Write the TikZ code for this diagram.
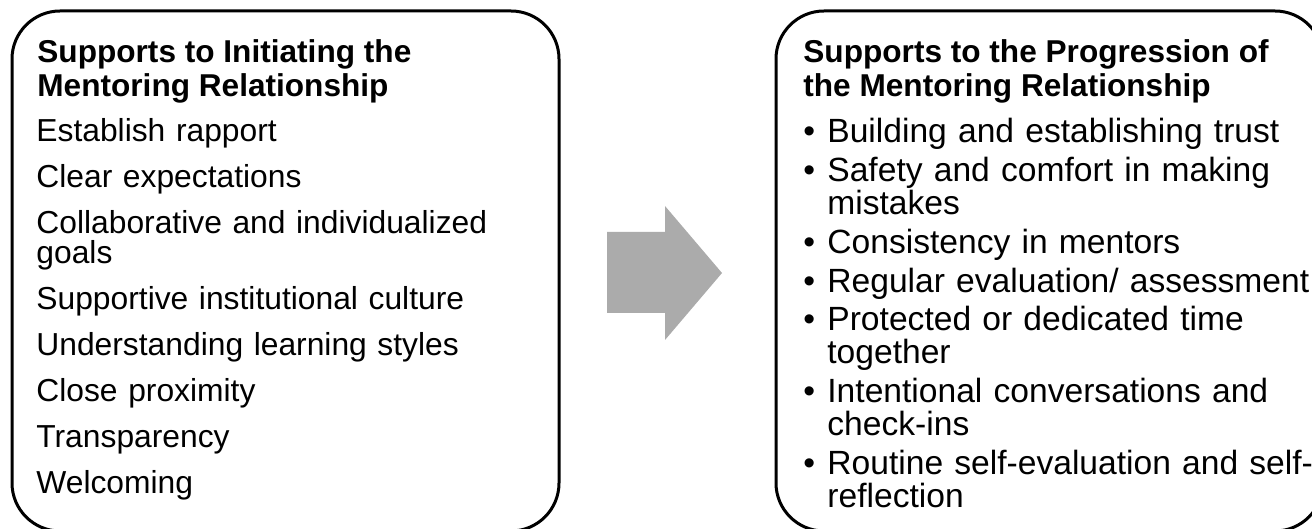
\documentclass[tikz,border=0pt]{standalone}
\usepackage{fontspec}
\setmainfont{Liberation Sans}
\usetikzlibrary{positioning}

\definecolor{arrowgray}{RGB}{171,171,171}

\newcommand{\bitem}[1]{\hangindent=12pt\hangafter=1\makebox[12pt][l]{\textbullet}#1\par}

\begin{document}
\begin{tikzpicture}[
    x=0.5pt, y=-0.5pt,
    panel/.style={
        draw,
        line width=1.5pt,
        rounded corners=24pt,
        minimum width=273.5pt,
        minimum height=260pt,
        inner sep=0pt
    },
    heading/.style={
        anchor=base west,
        inner sep=0pt,
        align=left,
        font=\fontsize{15.8}{17}\bfseries\selectfont
    },
    itemlist/.style={
        anchor=base west,
        inner sep=0pt,
        text width=265pt,
        align=left,
        font=\fontsize{15.9}{15}\selectfont
    }
]
\useasboundingbox (0,0) rectangle (1312,529);

\node [panel] (initbox) at (285.5,271) {};
\node [panel] (progbox) at (1049.5,271) {};

\node [heading] (inithead) at (37,97) {Supports to Initiating the\\Mentoring Relationship};
\node [heading] (proghead) at (803,97) {Supports to the Progression of\\the Mentoring Relationship};

\node [itemlist] (initlist) at (36,142) {\lineskiplimit=-20pt\setlength{\parskip}{8pt}%
Establish rapport\par
Clear expectations\par
Collaborative and individualized\newline goals\par
Supportive institutional culture\par
Understanding learning styles\par
Close proximity\par
Transparency\par
Welcoming};

\node [itemlist, font=\fontsize{16.8}{16.5}\selectfont] (proglist) at (803,143) {\lineskiplimit=-20pt\setlength{\parskip}{2.85pt}%
\bitem{Building and establishing trust}
\bitem{Safety and comfort in making\newline mistakes}
\bitem{Consistency in mentors}
\bitem{Regular evaluation/ assessment}
\bitem{Protected or dedicated time\newline together}
\bitem{Intentional conversations and\newline check-ins}
\bitem{Routine self-evaluation and self-\newline reflection}};

% block arrow between the two panels
\fill[arrowgray] (607,232) -- (665,232) -- (665,206) -- (722,273)
    -- (665,340) -- (665,313) -- (607,313) -- cycle;
\end{tikzpicture}
\end{document}
